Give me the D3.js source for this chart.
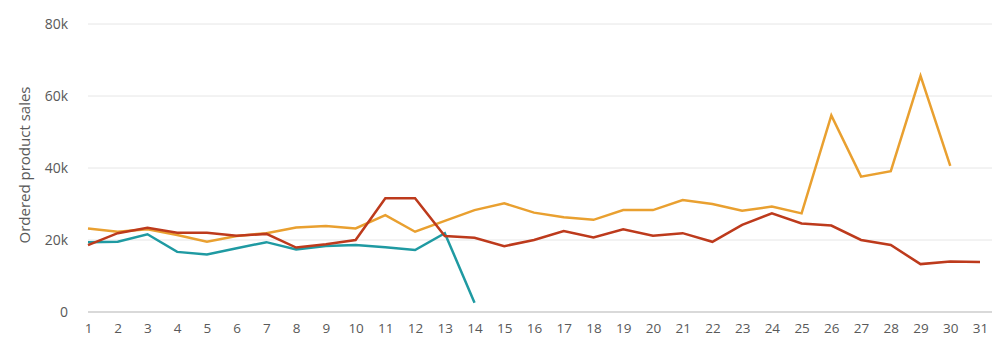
<!DOCTYPE html>
<html>
<head>
<meta charset="utf-8">
<script src="https://cdn.jsdelivr.net/npm/d3@7"></script>
<style>
  body { margin: 0; background: #fff; }
  svg text { font-family: "Open Sans", "Noto Sans", sans-serif; fill: #595959; }
</style>
</head>
<body>
<div id="chart"></div>
<script>
// days of the month
var days = d3.range(1, 32);

// monthly series, ordered product sales
var salesOrange = [23200, 22300, 23000, 21400, 19500, 21100, 21900, 23500, 23900, 23200,
                   26900, 22300, 25300, 28300, 30200, 27600, 26300, 25600, 28300, 28300,
                   31100, 30000, 28100, 29300, 27400, 54600, 37600, 39100, 65600, 40600];
var salesRed = [18600, 21900, 23400, 22000, 22000, 21200, 21700, 17900, 18800, 20000,
                31600, 31600, 21100, 20600, 18300, 20000, 22500, 20700, 23000, 21200,
                21900, 19500, 24200, 27400, 24600, 24000, 20000, 18600, 13300, 14000, 13900];
var salesTeal = [19400, 19500, 21600, 16700, 16000, 17700, 19400, 17400, 18300, 18600,
                 18000, 17200, 21900, 2600];

var yTicks = [0, 20000, 40000, 60000, 80000];

function init() {
    var w = 1001;
    var h = 354;

    var svg = d3.select("#chart")
                .append("svg")
                .attr("width", w)
                .attr("height", h);

    var xScale = d3.scaleLinear()
                    .domain([1, 31])
                    .range([88, 980]);

    var yScale = d3.scaleLinear()
                    .domain([0, 80000])
                    .range([312, 24]);

    // horizontal grid
    svg.append("g")
        .selectAll("line")
        .data(yTicks)
        .enter()
        .append("line")
        .attr("x1", 88)
        .attr("x2", 992)
        .attr("y1", function(d) { return yScale(d); })
        .attr("y2", function(d) { return yScale(d); })
        .attr("stroke", function(d) { return d === 0 ? "#d9d9d9" : "#e6e6e6"; })
        .attr("stroke-width", function(d) { return d === 0 ? 2 : 1; });

    // y axis labels
    var yAxis = d3.axisLeft(yScale)
                  .tickValues(yTicks)
                  .tickSize(0)
                  .tickPadding(0)
                  .tickFormat(function(d) { return d === 0 ? "0" : (d / 1000) + "k"; });

    svg.append("g")
        .attr("transform", "translate(68,0)")
        .call(yAxis)
        .call(function(g) { g.select(".domain").remove(); })
        .selectAll("text")
        .attr("font-size", 14)
        .attr("fill", "#595959");

    // x axis labels
    var xAxis = d3.axisBottom(xScale)
                  .tickValues(days)
                  .tickSize(0)
                  .tickPadding(0)
                  .tickFormat(d3.format("d"));

    svg.append("g")
        .attr("transform", "translate(0,323)")
        .call(xAxis)
        .call(function(g) { g.select(".domain").remove(); })
        .selectAll("text")
        .attr("font-size", 13.5)
        .attr("fill", "#595959");

    // axis title
    svg.append("text")
        .attr("transform", "translate(30,165) rotate(-90)")
        .attr("text-anchor", "middle")
        .attr("font-size", 15)
        .text("Ordered product sales");

    var line = d3.line()
                 .x(function(d, i) { return xScale(i + 1); })
                 .y(function(d) { return yScale(d); });

    var series = [
        { values: salesTeal, color: "#1f9aa2" },
        { values: salesOrange, color: "#e9a030" },
        { values: salesRed, color: "#bd3a1c" }
    ];

    svg.selectAll("path.series")
        .data(series)
        .enter()
        .append("path")
        .attr("class", "series")
        .attr("d", function(d) { return line(d.values); })
        .attr("fill", "none")
        .attr("stroke", function(d) { return d.color; })
        .attr("stroke-width", 2.5)
        .attr("stroke-linejoin", "miter");
}
window.onload = init;
</script>
</body>
</html>
